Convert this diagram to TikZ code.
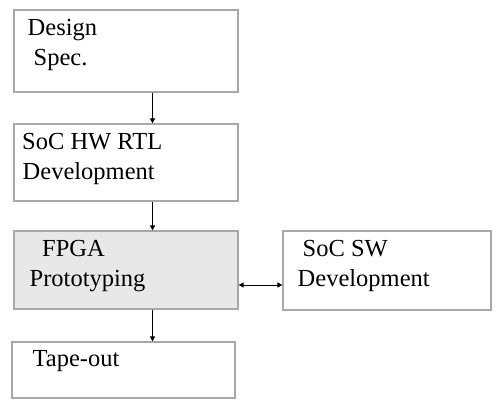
\documentclass[tikz,border=0pt]{standalone}
\usepackage{fontspec}
\setmainfont{Liberation Serif}
\usetikzlibrary{arrows.meta}

\definecolor{boxgray}{HTML}{A8A8A8}
\definecolor{fillgray}{HTML}{E8E8E8}

\tikzset{
    box/.style={draw=boxgray, line width=1.2pt, inner sep=0pt},
    label/.style={anchor=base west, inner sep=0pt, font=\fontsize{24.5}{30}\selectfont},
    flow/.style={-{Triangle[length=5pt, width=5pt]}, line width=0.8pt}
}

\begin{document}
\begin{tikzpicture}[x=1pt, y=-1pt]
    \useasboundingbox (0,0) rectangle (500,405);
    % the five boxes
    \node[box, minimum width=224pt, minimum height=82pt] (spec) at (126,51) {};
    \node[box, minimum width=224pt, minimum height=77pt] (hwrtl) at (126,162.5) {};
    \node[box, fill=fillgray, minimum width=224pt, minimum height=78pt] (fpga) at (126,270) {};
    \node[box, minimum width=208pt, minimum height=79pt] (socsw) at (387,270.5) {};
    \node[box, minimum width=223pt, minimum height=56pt] (tapeout) at (123.5,370) {};
    % texts
    \node[label] (specA) at (27.5,35) {Design};
    \node[label] (specB) at (33.5,65.5) {Spec.};
    \node[label] (hwA) at (22,149) {SoC HW RTL};
    \node[label] (hwB) at (22.5,179) {Development};
    \node[label] (fpgaA) at (42,256) {FPGA};
    \node[label] (fpgaB) at (29.5,286) {Prototyping};
    \node[label] (swA) at (302.5,256) {SoC SW};
    \node[label] (swB) at (297.5,286) {Development};
    \node[label] (tapeA) at (32.5,366.5) {Tape-out};
    % connectors
    \coordinate (ax) at (152.5,0);
    \coordinate (ay) at (0,285);
    \draw[flow] (spec.south -| ax) -- (hwrtl.north -| ax);
    \draw[flow] (hwrtl.south -| ax) -- (fpga.north -| ax);
    \draw[flow] (fpga.south -| ax) -- (tapeout.north -| ax);
    \draw[flow, {Triangle[length=5pt, width=5pt]}-{Triangle[length=5pt, width=5pt]}] (fpga.east |- ay) -- (socsw.west |- ay);
\end{tikzpicture}
\end{document}
